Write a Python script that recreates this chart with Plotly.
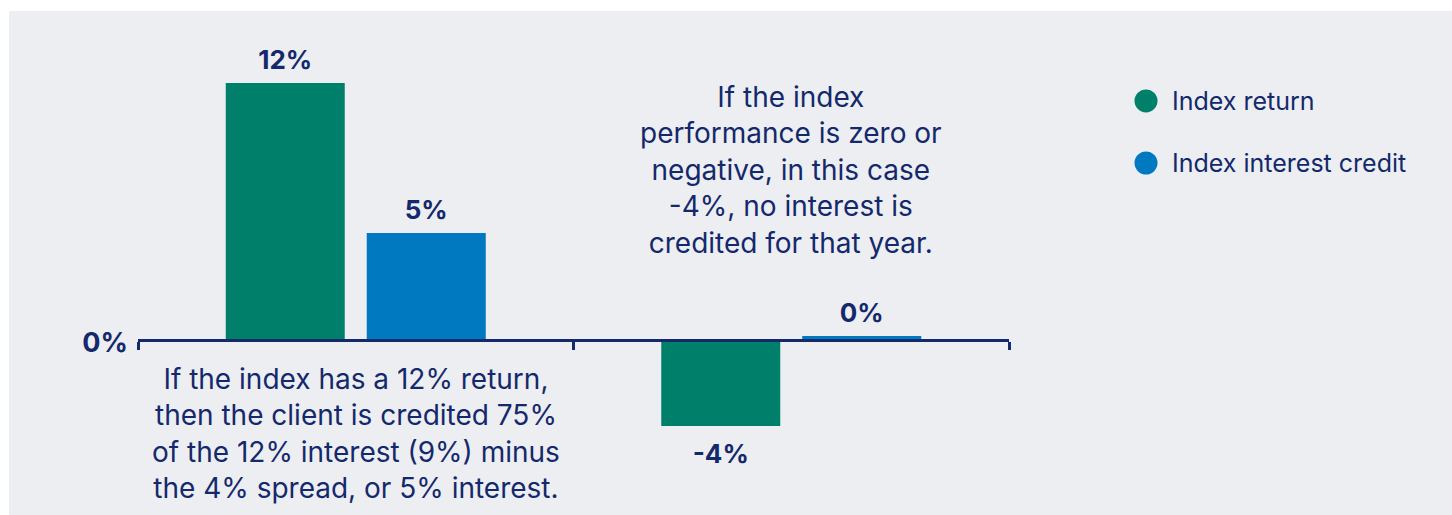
import plotly.graph_objects as go

# ---- data ----
categories = ["12% return", "-4% return"]
index_return = [12, -4]
index_credit = [5, 0.2]
return_labels = ["12%", "-4%"]
credit_labels = ["5%", "0%"]
series_names = ["Index return", "Index interest credit"]
note_positive = "If the index has a 12% return,<br>then the client is credited 75%<br>of the 12% interest (9%) minus<br>the 4% spread, or 5% interest."
note_negative = "If the index<br>performance is zero or<br>negative, in this case<br>-4%, no interest is<br>credited for that year."

# ---- styles ----
GREEN = "#00806A"
BLUE = "#0079C1"
NAVY = "#14296B"
BG = "#EDEEF2"
FONT = "Inter, Lato, sans-serif"
BARGAP = 0.3525

y_min, y_max = -7.5, 14

fig = go.Figure()
for vals, labels, name, col, grp in [(index_return, return_labels, series_names[0], GREEN, "a"),
                                     (index_credit, credit_labels, series_names[1], BLUE, "b")]:
    fig.add_trace(go.Bar(
        x=categories, y=vals, name=name, offsetgroup=grp,
        marker=dict(color=col, line=dict(width=0)),
        showlegend=False, hoverinfo="x+y+name",
    ))
    fig.add_trace(go.Scatter(
        x=categories, y=vals, name=name, offsetgroup=grp,
        mode="markers+text", text=labels,
        textposition=["top center" if v >= 0 else "bottom center" for v in vals],
        marker=dict(size=[11 if v >= 0 else 26 for v in vals], opacity=0, color=col),
        textfont=dict(family=FONT, size=26, color=NAVY, weight="bold"),
        cliponaxis=False, showlegend=False, hoverinfo="skip",
    ))

pos0 = (0 - y_min) / (y_max - y_min)

fig.update_layout(
    width=1443, height=504,
    margin=dict(l=129, r=443, t=29, b=14, pad=0),
    paper_bgcolor=BG, plot_bgcolor=BG,
    barmode="group", bargap=BARGAP, bargroupgap=0.156,
    scattermode="group", scattergap=BARGAP,
    font=dict(family=FONT, color=NAVY),
    xaxis=dict(
        anchor="free", position=pos0,
        showline=True, linecolor=NAVY, linewidth=3,
        ticks="outside", tickson="boundaries", ticklen=8, tickwidth=3, tickcolor=NAVY,
        showticklabels=False, showgrid=False, zeroline=False,
    ),
    yaxis=dict(
        range=[y_min, y_max], showgrid=False, zeroline=False, showline=False,
        tickvals=[0], ticktext=["0%"], ticks="",
        tickfont=dict(family=FONT, size=27, color=NAVY, weight="bold"),
        ticklabelstandoff=9, ticklabelshift=2,
    ),
    showlegend=False,
)

# notes
fig.add_annotation(x=categories[0], y=-4.35, xref="x", yref="y", text=note_positive,
                   showarrow=False, align="center", yanchor="middle",
                   font=dict(family=FONT, size=28, color=NAVY))
fig.add_annotation(x=categories[1], y=7.93, xref="x", yref="y", text=note_negative,
                   showarrow=False, align="center", yanchor="middle",
                   font=dict(family=FONT, size=28, color=NAVY))

# legend (circle markers + labels)
legend_colors = [GREEN, BLUE]
legend_y = [0.8677, 0.7332]
for name, col, ly in zip(series_names, legend_colors, legend_y):
    fig.add_shape(type="circle", xref="paper", yref="paper",
                  xsizemode="pixel", ysizemode="pixel",
                  xanchor=1.1573, yanchor=ly, x0=-11.5, x1=11.5, y0=-11.5, y1=11.5,
                  fillcolor=col, line=dict(width=0))
    fig.add_annotation(x=1.1848, y=ly, xref="paper", yref="paper", text=name,
                       showarrow=False, xanchor="left", yanchor="middle",
                       font=dict(family=FONT, size=25, color=NAVY))

fig.write_html("out.html", post_script="document.body.style.margin='11px 0 0 9px';document.body.style.background='#ffffff';document.body.style.overflow='hidden';")
